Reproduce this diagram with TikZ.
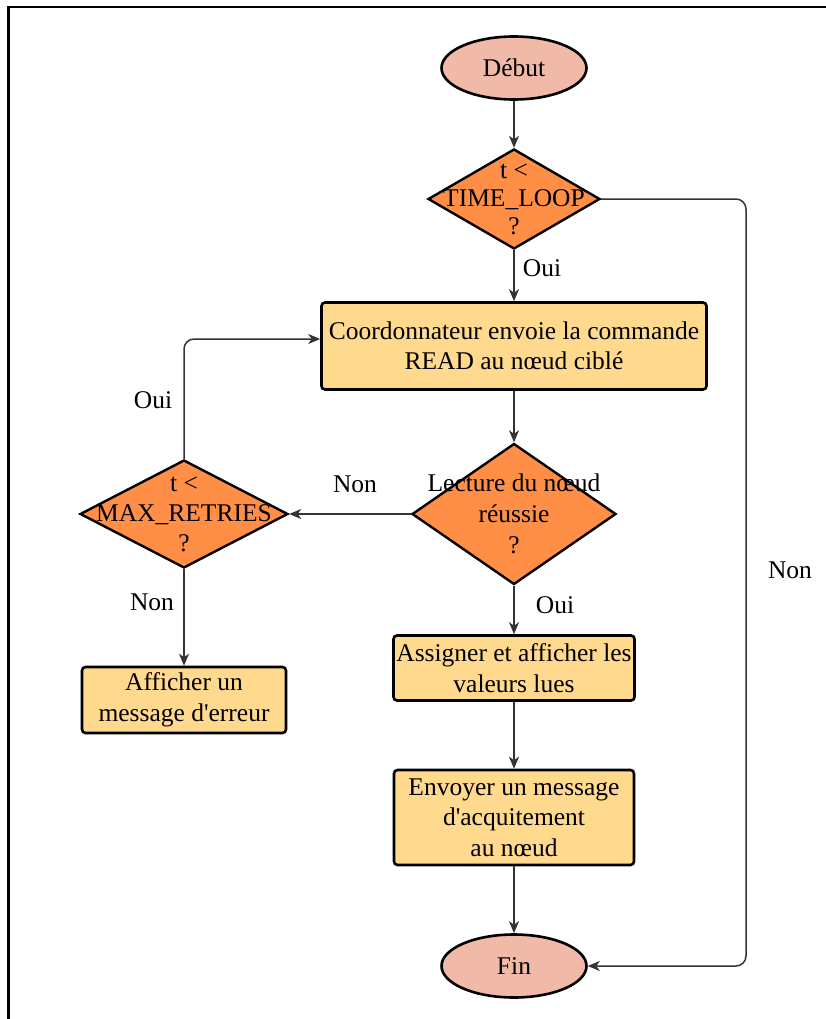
\documentclass[tikz,border=0pt]{standalone}
\usepackage{fontspec}
\setmainfont{Liberation Serif}[Ligatures=TeXOff]
\usetikzlibrary{shapes.geometric,arrows.meta}
\definecolor{termfill}{HTML}{F0B9A8}
\definecolor{decfill}{HTML}{FF8F47}
\definecolor{procfill}{HTML}{FFD98E}
\definecolor{wire}{HTML}{333333}
\begin{document}
\begin{tikzpicture}[x=1pt,y=-1pt,
  every node/.style={font=\fontsize{25.5}{30.5}\selectfont, text=black},
  terminal/.style={ellipse, draw=black, line width=2.6pt, fill=termfill,
    minimum width=145pt, minimum height=63pt, inner sep=0pt},
  decision/.style={diamond, draw=black, line width=2.4pt, fill=decfill, inner sep=0pt},
  process/.style={rectangle, rounded corners=3.5pt, draw=black, line width=2.6pt,
    fill=procfill, align=center, inner sep=0pt},
  caption/.style={align=center, inner sep=0pt},
  conn/.style={draw=wire, line width=1.5pt, -{Stealth[length=12pt,width=10pt,inset=3.5pt]}},
  lbl/.style={inner sep=0pt}]
\useasboundingbox (0,0) rectangle (826,1019);

% page frame (left and top edges)
\draw[line width=2.5pt] (8.5,1019) -- (8.5,7) -- (826,7);

% main column
\node[terminal] (start) at (514,68) {Début};
\node[decision, minimum width=172pt, minimum height=100pt] (d1) at (514,199) {};
\node[caption, font=\fontsize{25.5}{28}\selectfont] (d1t) at (d1.center) {t <\\TIME\_LOOP\\?};
\node[process, minimum width=385pt, minimum height=87pt] (b1) at (514,346)
  {Coordonnateur envoie la commande\\READ au nœud ciblé};
\node[decision, minimum width=204pt, minimum height=141pt] (d2) at (514,514) {};
\node[caption, font=\fontsize{25.5}{31}\selectfont] (d2t) at (d2.center) {Lecture du nœud\\réussie\\?};
\node[process, minimum width=241pt, minimum height=65pt] (asg) at (514,668)
  {Assigner et afficher les\\valeurs lues};
\node[process, minimum width=240pt, minimum height=95pt] (ack) at (514,817.5)
  {Envoyer un message\\d'acquitement\\au nœud};
\node[terminal] (end) at (514,966) {Fin};

% retry branch
\node[decision, minimum width=208pt, minimum height=108pt] (d3) at (184,514) {};
\node[caption, font=\fontsize{25.5}{30}\selectfont] (d3t) at (d3.center) {t <\\MAX\_RETRIES\\?};
\node[process, minimum width=204pt, minimum height=66pt] (err) at (184,700)
  {Afficher un\\message d'erreur};

% connectors
\draw[conn] (start.south) -- (d1.north);
\draw[conn] (d1.south) -- (b1.north);
\draw[conn] (b1.south) -- (d2.north);
\draw[conn] (d2.west) -- (d3.east);
\draw[conn, rounded corners=10pt] (d3.north) |- ([yshift=7pt]b1.west);
\draw[conn] (d3.south) -- (err.north);
\draw[conn] (d2.south) -- (asg.north);
\draw[conn] (asg.south) -- (ack.north);
\draw[conn] (ack.south) -- (end.north);
\coordinate (rail) at (746,0);
\draw[conn, rounded corners=10pt] (d1.east) -| (rail |- end.east) -- (end.east);

% branch labels
\node[lbl] (oui1) at (542,268) {Oui};
\node[lbl] (non1) at (790,570) {Non};
\node[lbl] (oui2) at (153,400) {Oui};
\node[lbl] (non2) at (355,484) {Non};
\node[lbl] (non3) at (152,602) {Non};
\node[lbl] (oui3) at (555,605) {Oui};
\end{tikzpicture}
\end{document}
